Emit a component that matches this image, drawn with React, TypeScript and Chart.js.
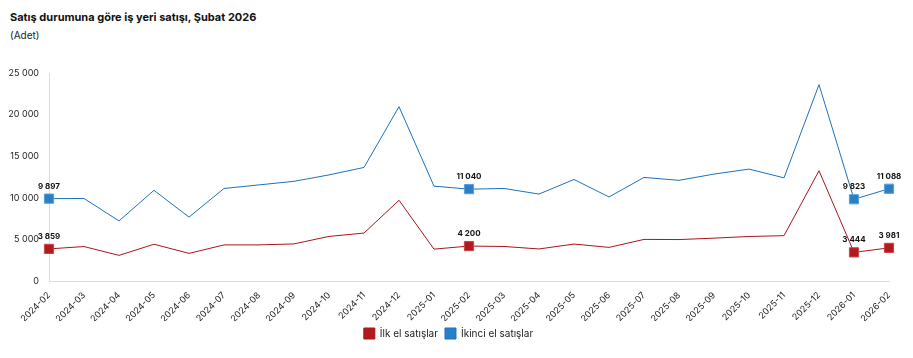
import React, { useEffect, useRef } from "react";
import { Chart, registerables } from "chart.js";

Chart.register(...registerables);

const categories = [
  "2024-02", "2024-03", "2024-04", "2024-05", "2024-06", "2024-07", "2024-08",
  "2024-09", "2024-10", "2024-11", "2024-12", "2025-01", "2025-02", "2025-03",
  "2025-04", "2025-05", "2025-06", "2025-07", "2025-08", "2025-09", "2025-10",
  "2025-11", "2025-12", "2026-01", "2026-02",
];

const ilkEl = [
  3859, 4140, 3080, 4420, 3320, 4340, 4340, 4460, 5360, 5760, 9700, 3830, 4200,
  4150, 3850, 4440, 4040, 5000, 4980, 5150, 5350, 5450, 13250, 3444, 3981,
];

const ikinciEl = [
  9897, 9920, 7220, 10900, 7680, 11120, 11550, 11980, 12750, 13650, 20950, 11400,
  11040, 11120, 10450, 12200, 10100, 12450, 12100, 12850, 13450, 12400, 23600,
  9823, 11088,
];

const markedIdx = [0, 12, 23, 24];

const seriesNames = ["İlk el satışlar", "İkinci el satışlar"];
const titleText = "Satış durumuna göre iş yeri satışı, Şubat 2026";
const subtitleText = "(Adet)";

const fmt = (v: number) =>
  String(Math.round(v)).replace(/\B(?=(\d{3})+(?!\d))/g, " ");

const FONT = "Inter, 'DejaVu Sans', sans-serif";

const dataLabelPlugin = {
  id: "dataLabels",
  afterDatasetsDraw(chart: any) {
    const ctx = chart.ctx;
    ctx.save();
    ctx.font = `bold 8px ${FONT}`;
    ctx.fillStyle = "#111";
    ctx.textAlign = "center";
    ctx.textBaseline = "alphabetic";
    chart.data.datasets.forEach((ds: any, di: number) => {
      const meta = chart.getDatasetMeta(di);
      markedIdx.forEach((i) => {
        const el = meta.data[i];
        if (!el) return;
        ctx.fillText(fmt(ds.data[i]), el.x, el.y - 10);
      });
    });
    ctx.restore();
  },
};

const radii = categories.map((_, i) => (markedIdx.includes(i) ? 6.5 : 0));

export default function App() {
  const ref = useRef<HTMLCanvasElement | null>(null);

  useEffect(() => {
    if (!ref.current) return;
    const chart = new Chart(ref.current, {
      type: "line",
      data: {
        labels: categories,
        datasets: [
          {
            label: seriesNames[0],
            data: ilkEl,
            borderColor: "#a9161b",
            backgroundColor: "#b3191d",
            pointBackgroundColor: "#b3191d",
            pointBorderColor: "#c9484b",
            pointBorderWidth: 1,
            borderWidth: 1,
            tension: 0,
            pointStyle: "rect",
            pointRadius: radii,
            pointHoverRadius: radii,
          },
          {
            label: seriesNames[1],
            data: ikinciEl,
            borderColor: "#1c72bd",
            backgroundColor: "#2a80c6",
            pointBackgroundColor: "#2a80c6",
            pointBorderColor: "#5a9fd6",
            pointBorderWidth: 1,
            borderWidth: 1,
            tension: 0,
            pointStyle: "rect",
            pointRadius: radii,
            pointHoverRadius: radii,
          },
        ],
      },
      options: {
        animation: false,
        responsive: false,
        layout: { padding: { left: 8, right: 24, top: 73, bottom: 9 } },
        plugins: {
          legend: {
            position: "bottom",
            labels: {
              boxWidth: 11,
              boxHeight: 11,
              padding: 7,
              color: "#222",
              font: { family: FONT, size: 10 },
              generateLabels: (c: any) =>
                c.data.datasets.map((ds: any, i: number) => ({
                  text: ds.label,
                  fillStyle: ds.backgroundColor,
                  strokeStyle: ds.borderColor,
                  lineWidth: 1,
                  datasetIndex: i,
                  fontColor: "#222",
                })),
            },
          },
          tooltip: { enabled: false },
          title: { display: false },
        },
        scales: {
          x: {
            offset: false,
            grid: { display: false },
            border: { display: true, color: "#dcdcdc" },
            ticks: {
              minRotation: 45,
              maxRotation: 45,
              autoSkip: false,
              color: "#222",
              padding: 1,
              font: { family: FONT, size: 9 },
            },
            afterFit: (s: any) => {
              s.height = 40;
            },
          },
          y: {
            min: 0,
            max: 25000,
            grid: { display: false, drawTicks: false },
            border: { display: true, color: "#dcdcdc" },
            ticks: {
              stepSize: 5000,
              color: "#222",
              padding: 10,
              font: { family: FONT, size: 9 },
              callback: (v: any) => fmt(Number(v)),
            },
            afterFit: (s: any) => {
              s.width = 41;
            },
          },
        },
      },
      plugins: [dataLabelPlugin],
    });
    return () => chart.destroy();
  }, []);

  return (
    <div style={{ position: "fixed", left: 0, top: 0, width: 913, height: 358, background: "#fff" }}>
      <div
        style={{
          position: "absolute",
          left: 10,
          top: 10,
          fontFamily: FONT,
          fontWeight: 700,
          fontSize: 11,
          color: "#111",
        }}
      >
        {titleText}
      </div>
      <div
        style={{
          position: "absolute",
          left: 10,
          top: 29,
          fontFamily: FONT,
          fontSize: 10,
          color: "#222",
        }}
      >
        {subtitleText}
      </div>
      <canvas ref={ref} width={913} height={358} style={{ position: "absolute", left: 0, top: 0 }} />
    </div>
  );
}
